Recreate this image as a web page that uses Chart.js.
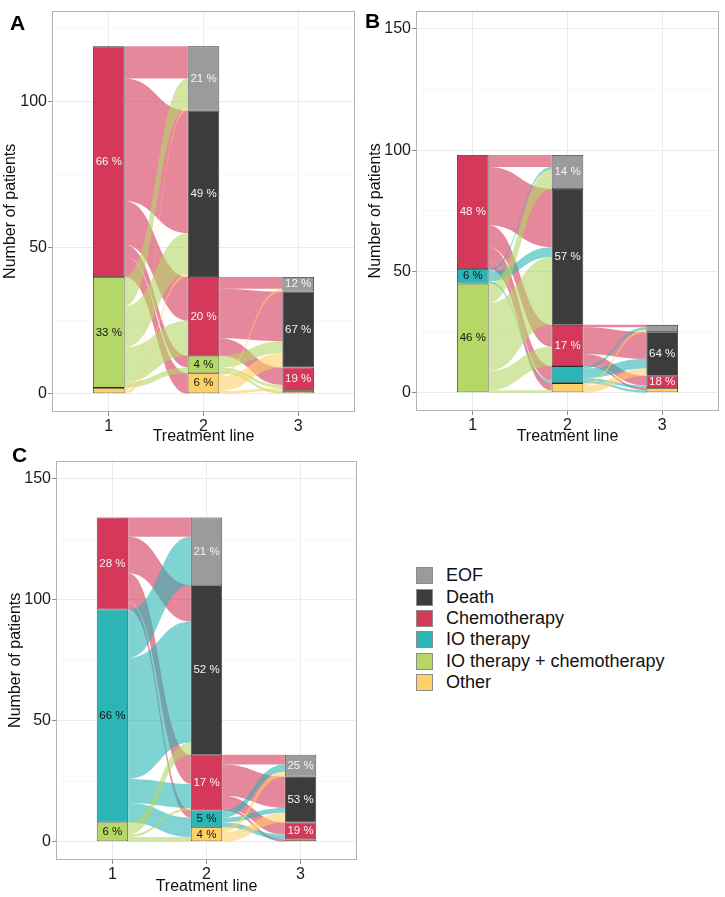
<!DOCTYPE html>
<html>
<head>
<meta charset="utf-8">
<script src="https://cdn.jsdelivr.net/npm/chart.js@4.4.1/dist/chart.umd.min.js"></script>
<style>
  body { margin: 0; background: #fff; font-family: "Liberation Sans", Arial, Helvetica, sans-serif; }
  #wrap { position: relative; width: 725px; height: 897px; overflow: hidden; }
  #wrap canvas { position: absolute; }
  .tag { position: absolute; font-weight: bold; font-size: 21px; line-height: 21px; color: #000; }
  #legend { position: absolute; left: 416px; top: 565px; }
  .item { height: 21.4px; display: flex; align-items: center; font-size: 18px; color: #111; white-space: nowrap; }
  .key { width: 17px; height: 17px; box-sizing: border-box; border: 1px solid #8c8c8c; margin-right: 13px; }
</style>
</head>
<body>
<div id="wrap">
  <canvas id="chartA" width="360" height="448" style="left:0;top:0;"></canvas>
  <canvas id="chartB" width="365" height="448" style="left:360px;top:0;"></canvas>
  <canvas id="chartC" width="360" height="447" style="left:0;top:450px;"></canvas>
  <div class="tag" style="left:10px;top:12px;">A</div>
  <div class="tag" style="left:365px;top:10px;">B</div>
  <div class="tag" style="left:12px;top:444px;">C</div>
  <div id="legend"></div>
</div>
<script>
/* ============================================================
   Alluvial plots of treatment lines (A, B, C)
   ============================================================ */
var CATEGORIES = ['EOF', 'Death', 'Chemotherapy', 'IO therapy', 'IO therapy + chemotherapy', 'Other'];
var FILLS      = ['#9b9b9b', '#3c3c3c', '#d6385a', '#2bb5b5', '#b4d766', '#fdd068'];
var LINES      = [1, 2, 3];
var BAR_W      = 1 / 3;   // stratum width in axis units

// flows: rows = from (line n), columns = to (line n+1), order as CATEGORIES
var A_FLOW_1_2 = [
  [0, 0, 0, 0, 0, 0],
  [0, 0, 0, 0, 0, 0],
  [11, 42, 15, 0, 4, 7],
  [0, 0, 0, 0, 0, 0],
  [10, 14, 12, 0, 2, 0],
  [1, 1, 0, 0, 0, 0]
];
var A_FLOW_2_3 = [
  [0, 0, 0, 0, 0, 0],
  [0, 0, 0, 0, 0, 0],
  [4, 17, 6, 0, 0, 0],
  [0, 0, 0, 0, 0, 0],
  [0, 4, 1, 0, 0, 1],
  [1, 5, 1, 0, 0, 0]
];
var A_PCT_1 = [null, null, '66 %', null, '33 %', null];
var A_PCT_2 = ['21 %', '49 %', '20 %', null, '4 %', '6 %'];
var A_PCT_3 = ['12 %', '67 %', '19 %', null, null, null];

var B_FLOW_1_2 = [
  [0, 0, 0, 0, 0, 0],
  [0, 0, 0, 0, 0, 0],
  [5, 24, 9, 6, 0, 3],
  [1, 4, 0, 1, 0, 0],
  [8, 28, 8, 0, 0, 1],
  [0, 0, 0, 0, 0, 0]
];
var B_FLOW_2_3 = [
  [0, 0, 0, 0, 0, 0],
  [0, 0, 0, 0, 0, 0],
  [1, 11, 4, 0, 0, 1],
  [1, 4, 1, 0, 0, 1],
  [0, 0, 0, 0, 0, 0],
  [1, 3, 0, 0, 0, 0]
];
var B_PCT_1 = [null, null, '48 %', '6 %', '46 %', null];
var B_PCT_2 = ['14 %', '57 %', '17 %', null, null, null];
var B_PCT_3 = [null, '64 %', '18 %', null, null, null];

var C_FLOW_1_2 = [
  [0, 0, 0, 0, 0, 0],
  [0, 0, 0, 0, 0, 0],
  [8, 15, 12, 3, 0, 0],
  [20, 50, 10, 4, 0, 4],
  [0, 5, 1, 0, 0, 2],
  [0, 0, 0, 0, 0, 0]
];
var C_FLOW_2_3 = [
  [0, 0, 0, 0, 0, 0],
  [0, 0, 0, 0, 0, 0],
  [4, 13, 5, 0, 0, 1],
  [3, 2, 2, 0, 0, 0],
  [0, 0, 0, 0, 0, 0],
  [2, 4, 0, 0, 0, 0]
];
var C_PCT_1 = [null, null, '28 %', '66 %', '6 %', null];
var C_PCT_2 = ['21 %', '52 %', '17 %', '5 %', null, '4 %'];
var C_PCT_3 = ['25 %', '53 %', '19 %', null, null, null];

var A_Y_TICKS  = [0, 25, 50, 75, 100, 125];
var BC_Y_TICKS = [0, 25, 50, 75, 100, 125, 150];

var FONT = '"Liberation Sans", Arial, Helvetica, sans-serif';

function rowSums(m) { return m.map(function(r) { return r.reduce(function(a, b) { return a + b; }, 0); }); }
function colSums(m) { return m[0].map(function(_, j) { return m.reduce(function(a, r) { return a + r[j]; }, 0); }); }

// top of each stratum; stack bottom->top is Other ... EOF
function stackTops(vals) {
  var tops = [], cum = 0;
  for (var k = vals.length - 1; k >= 0; k--) { cum += vals[k]; tops[k] = cum; }
  return tops;
}

function hexA(hex, a) {
  var n = parseInt(hex.slice(1), 16);
  return 'rgba(' + (n >> 16 & 255) + ',' + (n >> 8 & 255) + ',' + (n & 255) + ',' + a + ')';
}

function drawFlows(chart, F, col) {
  var xs = chart.scales.x, ys = chart.scales.y, ctx = chart.ctx;
  var outTop = stackTops(rowSums(F));
  var inTop  = stackTops(colSums(F));
  var x0 = xs.getPixelForValue(col + BAR_W / 2);
  var x1 = xs.getPixelForValue(col + 1 - BAR_W / 2);
  var xm = (x0 + x1) / 2;
  ctx.save();
  for (var s = 0; s < F.length; s++) {
    for (var d = 0; d < F[s].length; d++) {
      var v = F[s][d];
      if (!v) continue;
      var a0 = ys.getPixelForValue(outTop[s]), a1 = ys.getPixelForValue(outTop[s] - v);
      var b0 = ys.getPixelForValue(inTop[d]),  b1 = ys.getPixelForValue(inTop[d] - v);
      outTop[s] -= v; inTop[d] -= v;
      ctx.beginPath();
      ctx.moveTo(x0, a0);
      ctx.bezierCurveTo(xm, a0, xm, b0, x1, b0);
      ctx.lineTo(x1, b1);
      ctx.bezierCurveTo(xm, b1, xm, a1, x0, a1);
      ctx.closePath();
      ctx.fillStyle = hexA(FILLS[s], 0.6);
      ctx.fill();
    }
  }
  ctx.restore();
}

// y range: data limit plus 5% expansion on each side
function expandMin(lim) { return -lim * 0.05; }
function expandMax(lim) { return lim * 1.05; }

function makePanel(id, f12, f23, pcts, yTicks, yLim, layout) {
  var cols = [rowSums(f12), colSums(f12), colSums(f23)];
  var datasets = [];
  for (var k = CATEGORIES.length - 1; k >= 0; k--) {
    datasets.push({
      label: CATEGORIES[k],
      catIndex: k,
      data: LINES.map(function(x, i) { return { x: x, y: cols[i][k] || null }; }),
      backgroundColor: FILLS[k],
      borderColor: '#2a2a2a',
      borderWidth: 0.8,
      borderSkipped: false,
      barPercentage: BAR_W,
      categoryPercentage: 1
    });
  }

  var alluvial = {
    id: 'alluvial',
    beforeDatasetsDraw: function(chart) {
      drawFlows(chart, f12, 1);
      drawFlows(chart, f23, 2);
    },
    afterDatasetsDraw: function(chart) {
      var ctx = chart.ctx;
      ctx.save();
      ctx.font = '11.5px ' + FONT;
      ctx.textAlign = 'center';
      ctx.textBaseline = 'middle';
      chart.data.datasets.forEach(function(ds, di) {
        var k = ds.catIndex;
        chart.getDatasetMeta(di).data.forEach(function(el, i) {
          var txt = pcts[i][k];
          if (!txt || ds.data[i].y == null) return;
          ctx.fillStyle = k <= 2 ? '#f4f4f4' : '#151515';
          ctx.fillText(txt, el.x, (el.y + el.base) / 2);
        });
      });
      ctx.restore();
    },
    afterDraw: function(chart) {
      var a = chart.chartArea, ctx = chart.ctx;
      ctx.save();
      ctx.strokeStyle = '#b3b3b3';
      ctx.lineWidth = 1;
      ctx.strokeRect(Math.round(a.left) + 0.5, Math.round(a.top) + 0.5,
                     Math.round(a.right - a.left) - 1, Math.round(a.bottom - a.top) - 1);
      ctx.restore();
    }
  };

  return new Chart(document.getElementById(id), {
    type: 'bar',
    data: { datasets: datasets },
    plugins: [alluvial],
    options: {
      responsive: false,
      animation: false,
      events: [],
      layout: { padding: layout.padding },
      plugins: { legend: { display: false }, tooltip: { enabled: false } },
      scales: {
        x: {
          type: 'linear', min: 0.4, max: 3.6, stacked: true, offset: false,
          afterBuildTicks: function(s) { s.ticks = LINES.map(function(v) { return { value: v }; }); },
          afterFit: function(s) { s.height = layout.xh; },
          border: { display: false },
          grid: { offset: false, color: '#ebebeb', lineWidth: 1, tickColor: '#8c8c8c', tickLength: 4 },
          ticks: { color: '#1a1a1a', font: { family: FONT, size: 16 }, padding: 1, maxRotation: 0,
                   callback: function(v) { return String(v); } },
          title: { display: true, text: 'Treatment line', color: '#111',
                   font: { family: FONT, size: 16 }, padding: { top: 0, bottom: layout.xtp } }
        },
        y: {
          type: 'linear', min: expandMin(yLim), max: expandMax(yLim), stacked: true,
          afterBuildTicks: function(s) { s.ticks = yTicks.map(function(v) { return { value: v }; }); },
          afterFit: function(s) { s.width = layout.yw; },
          border: { display: false },
          grid: {
            color: function(c) { return c.tick && c.tick.value % 50 === 0 ? '#ebebeb' : '#f5f5f5'; },
            lineWidth: function(c) { return c.tick && c.tick.value % 50 === 0 ? 1 : 0.7; },
            tickColor: function(c) { return c.tick && c.tick.value % 50 === 0 ? '#8c8c8c' : 'rgba(0,0,0,0)'; },
            tickLength: 4
          },
          ticks: { color: '#1a1a1a', font: { family: FONT, size: 16 }, padding: 1,
                   callback: function(v) { return v % 50 === 0 ? String(v) : ''; } },
          title: { display: true, text: 'Number of patients', color: '#111',
                   font: { family: FONT, size: 16 }, padding: { top: layout.ytp, bottom: 0 } }
        }
      }
    }
  });
}

makePanel('chartA', A_FLOW_1_2, A_FLOW_2_3, [A_PCT_1, A_PCT_2, A_PCT_3], A_Y_TICKS, 125,
  { padding: { left: 0, top: 4, right: 5, bottom: 0 }, yw: 52, xh: 36, ytp: 0.5, xtp: 1.4 });
makePanel('chartB', B_FLOW_1_2, B_FLOW_2_3, [B_PCT_1, B_PCT_2, B_PCT_3], BC_Y_TICKS, 150,
  { padding: { left: 0, top: 4, right: 6, bottom: 0 }, yw: 56, xh: 37, ytp: 5.5, xtp: 1.4 });
makePanel('chartC', C_FLOW_1_2, C_FLOW_2_3, [C_PCT_1, C_PCT_2, C_PCT_3], BC_Y_TICKS, 150,
  { padding: { left: 0, top: 5, right: 3, bottom: 0 }, yw: 56, xh: 37, ytp: 5.5, xtp: 0.7 });

// legend
var legend = document.getElementById('legend');
CATEGORIES.forEach(function(name, k) {
  var row = document.createElement('div');
  row.className = 'item';
  row.innerHTML = '<span class="key" style="background:' + FILLS[k] + '"></span>' + name;
  legend.appendChild(row);
});
</script>
</body>
</html>
